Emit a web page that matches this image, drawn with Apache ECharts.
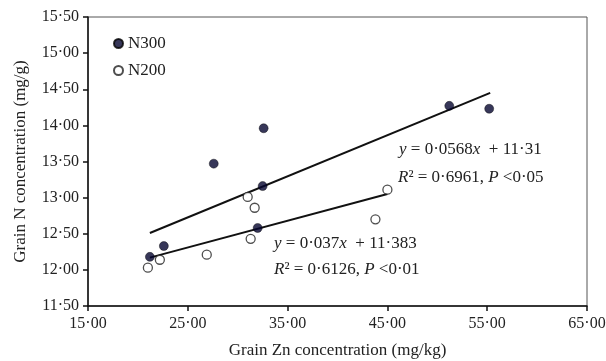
<!DOCTYPE html>
<html><head><meta charset="utf-8">
<script src="https://cdn.jsdelivr.net/npm/echarts@6/dist/echarts.min.js"></script>
<style>html,body{margin:0;padding:0;background:#fff}#c{width:606px;height:361px}</style>
</head><body><div id="c"></div>
<script>
const n300 = [[21.2,12.18],[22.6,12.33],[27.6,13.47],[32.6,13.96],[32.5,13.16],[32.0,12.58],[51.2,14.27],[55.2,14.23]];
const n200 = [[21.0,12.03],[22.2,12.14],[26.9,12.21],[31.0,13.01],[31.7,12.86],[31.3,12.43],[45.0,13.11],[43.8,12.70]];
const fit300 = [[21.2,12.51],[55.3,14.45]];
const fit200 = [[21.2,12.17],[45.0,13.05]];
const xTicks = [15,25,35,45,55,65];
const yTicks = [11.5,12,12.5,13,13.5,14,14.5,15,15.5];
const FONT = '"Liberation Serif","Times New Roman",serif';
const fmt = v => v.toFixed(2).replace('.', '\u00b7');
const rich = {i:{fontStyle:'italic',fontFamily:FONT,fontSize:17,fill:'#222'}};
const chart = echarts.init(document.getElementById('c'));
chart.setOption({
  animation:false,
  grid:{left:88,right:19,top:17,bottom:55,show:true,borderColor:'#555',borderWidth:1,
    containLabel:false,outerBoundsMode:'none'},
  legend:{data:['N300','N200'],orient:'vertical',left:108,top:30,itemWidth:9,itemHeight:9,itemGap:10,
    textStyle:{fontFamily:FONT,fontSize:17,color:'#222'}},
  xAxis:{type:'value',min:15,max:65,interval:10,
    name:'Grain Zn concentration (mg/kg)',nameLocation:'middle',nameGap:36,
    nameTextStyle:{fontFamily:FONT,fontSize:17,color:'#222'},
    axisLine:{lineStyle:{color:'#111',width:1.5}},axisTick:{length:5,lineStyle:{color:'#111',width:1.5}},
    axisLabel:{formatter:fmt,fontFamily:FONT,fontSize:16,color:'#222',margin:10},splitLine:{show:false}},
  yAxis:{type:'value',min:11.5,max:15.5,interval:0.5,
    name:'Grain N concentration (mg/g)',nameLocation:'middle',nameGap:59,
    nameTextStyle:{fontFamily:FONT,fontSize:17,color:'#222'},
    axisLine:{lineStyle:{color:'#111',width:1.5}},axisTick:{length:5,lineStyle:{color:'#111',width:1.5}},
    axisLabel:{formatter:fmt,fontFamily:FONT,fontSize:16,color:'#222',margin:9},splitLine:{show:false}},
  series:[
    {type:'line',data:fit300,symbol:'none',lineStyle:{color:'#111',width:2},z:2,silent:true},
    {type:'line',data:fit200,symbol:'none',lineStyle:{color:'#111',width:2},z:2,silent:true},
    {name:'N300',type:'scatter',data:n300,symbol:'circle',symbolSize:9,z:3,
      itemStyle:{color:'#050530',borderColor:'#000',borderWidth:0.5}},
    {name:'N200',type:'scatter',data:n200,symbol:'circle',symbolSize:9,z:3,
      itemStyle:{color:'#fff',borderColor:'#222',borderWidth:1.3}}
  ],
  graphic:[
    {type:'text',left:399,top:141,style:{text:'{i|y} = 0\u00b70568{i|x}  + 11\u00b731',font:'17px '+FONT,fill:'#222',rich:rich}},
    {type:'text',left:398,top:169,style:{text:'{i|R}\u00b2 = 0\u00b76961, {i|P} <0\u00b705',font:'17px '+FONT,fill:'#222',rich:rich}},
    {type:'text',left:274,top:235,style:{text:'{i|y} = 0\u00b7037{i|x}  + 11\u00b7383',font:'17px '+FONT,fill:'#222',rich:rich}},
    {type:'text',left:274,top:261,style:{text:'{i|R}\u00b2 = 0\u00b76126, {i|P} <0\u00b701',font:'17px '+FONT,fill:'#222',rich:rich}}
  ]
});
</script></body></html>
